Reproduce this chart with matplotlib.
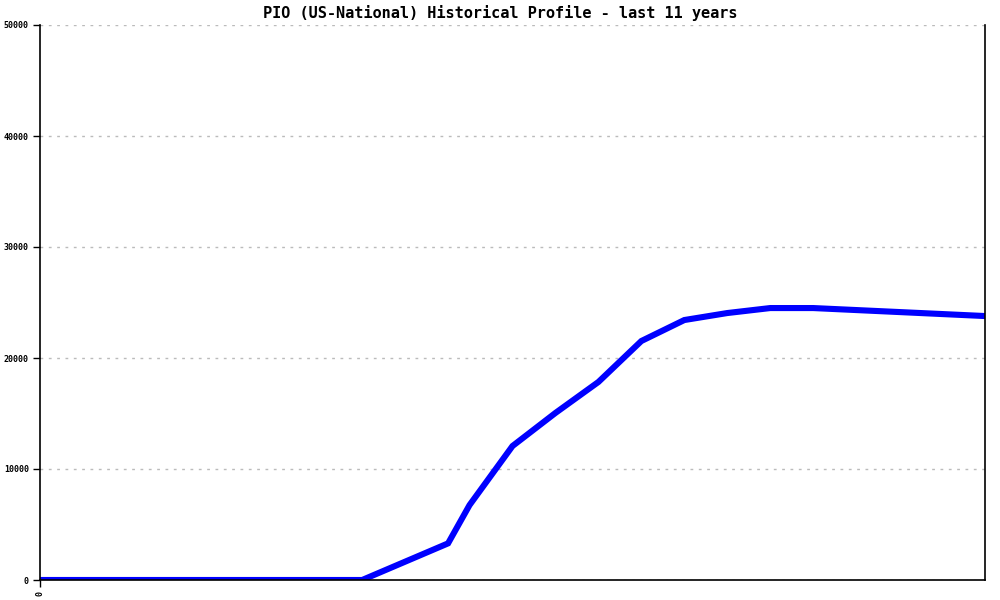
import matplotlib
matplotlib.use("Agg")
import matplotlib.pyplot as plt

# ---------------- Data (months since start, profile value) ----------------
months = [0, 12, 24, 36, 45, 57, 60, 66, 72, 78, 84, 90, 96, 102, 108, 114, 120, 126, 132]
values = [0, 0, 0, 0, 0, 3300, 6750, 12070, 15050, 17840, 21530, 23420,
          24050, 24500, 24500, 24320, 24140, 23960, 23780]

y_ticks = [0, 10000, 20000, 30000, 40000, 50000]
title = "PIO (US-National) Historical Profile - last 11 years"

# ---------------- Plot ----------------
fig = plt.figure(figsize=(10, 6), dpi=100)
ax = fig.add_axes([0.04, 1 - 580 / 600, 0.945, 555 / 600])

ax.plot(months, values, color="#0000ff", linewidth=4.4, solid_joinstyle="miter")

ax.set_xlim(0, 132)
ax.set_ylim(0, 50000)
ax.set_yticks(y_ticks)
ax.set_yticklabels([str(v) for v in y_ticks], fontsize=6, family="DejaVu Sans Mono",
                   fontweight="bold")
ax.set_xticks([0])
ax.set_xticklabels(["0"], rotation=90, fontsize=6, family="DejaVu Sans Mono",
                   fontweight="bold")
ax.tick_params(axis="both", direction="out", length=5, width=1, color="black", pad=3)

ax.grid(axis="y", linestyle=(0, (2, 4)), color="#bbbbbb", linewidth=1)
ax.set_axisbelow(True)

for side in ["left", "bottom", "right"]:
    ax.spines[side].set_color("black")
    ax.spines[side].set_linewidth(1.2)
ax.spines["top"].set_visible(False)

fig.text(0.5, 1 - 13 / 600, title, ha="center", va="center",
         fontsize=11, family="DejaVu Sans Mono", fontweight="bold")

fig.savefig("out.png", dpi=100)
